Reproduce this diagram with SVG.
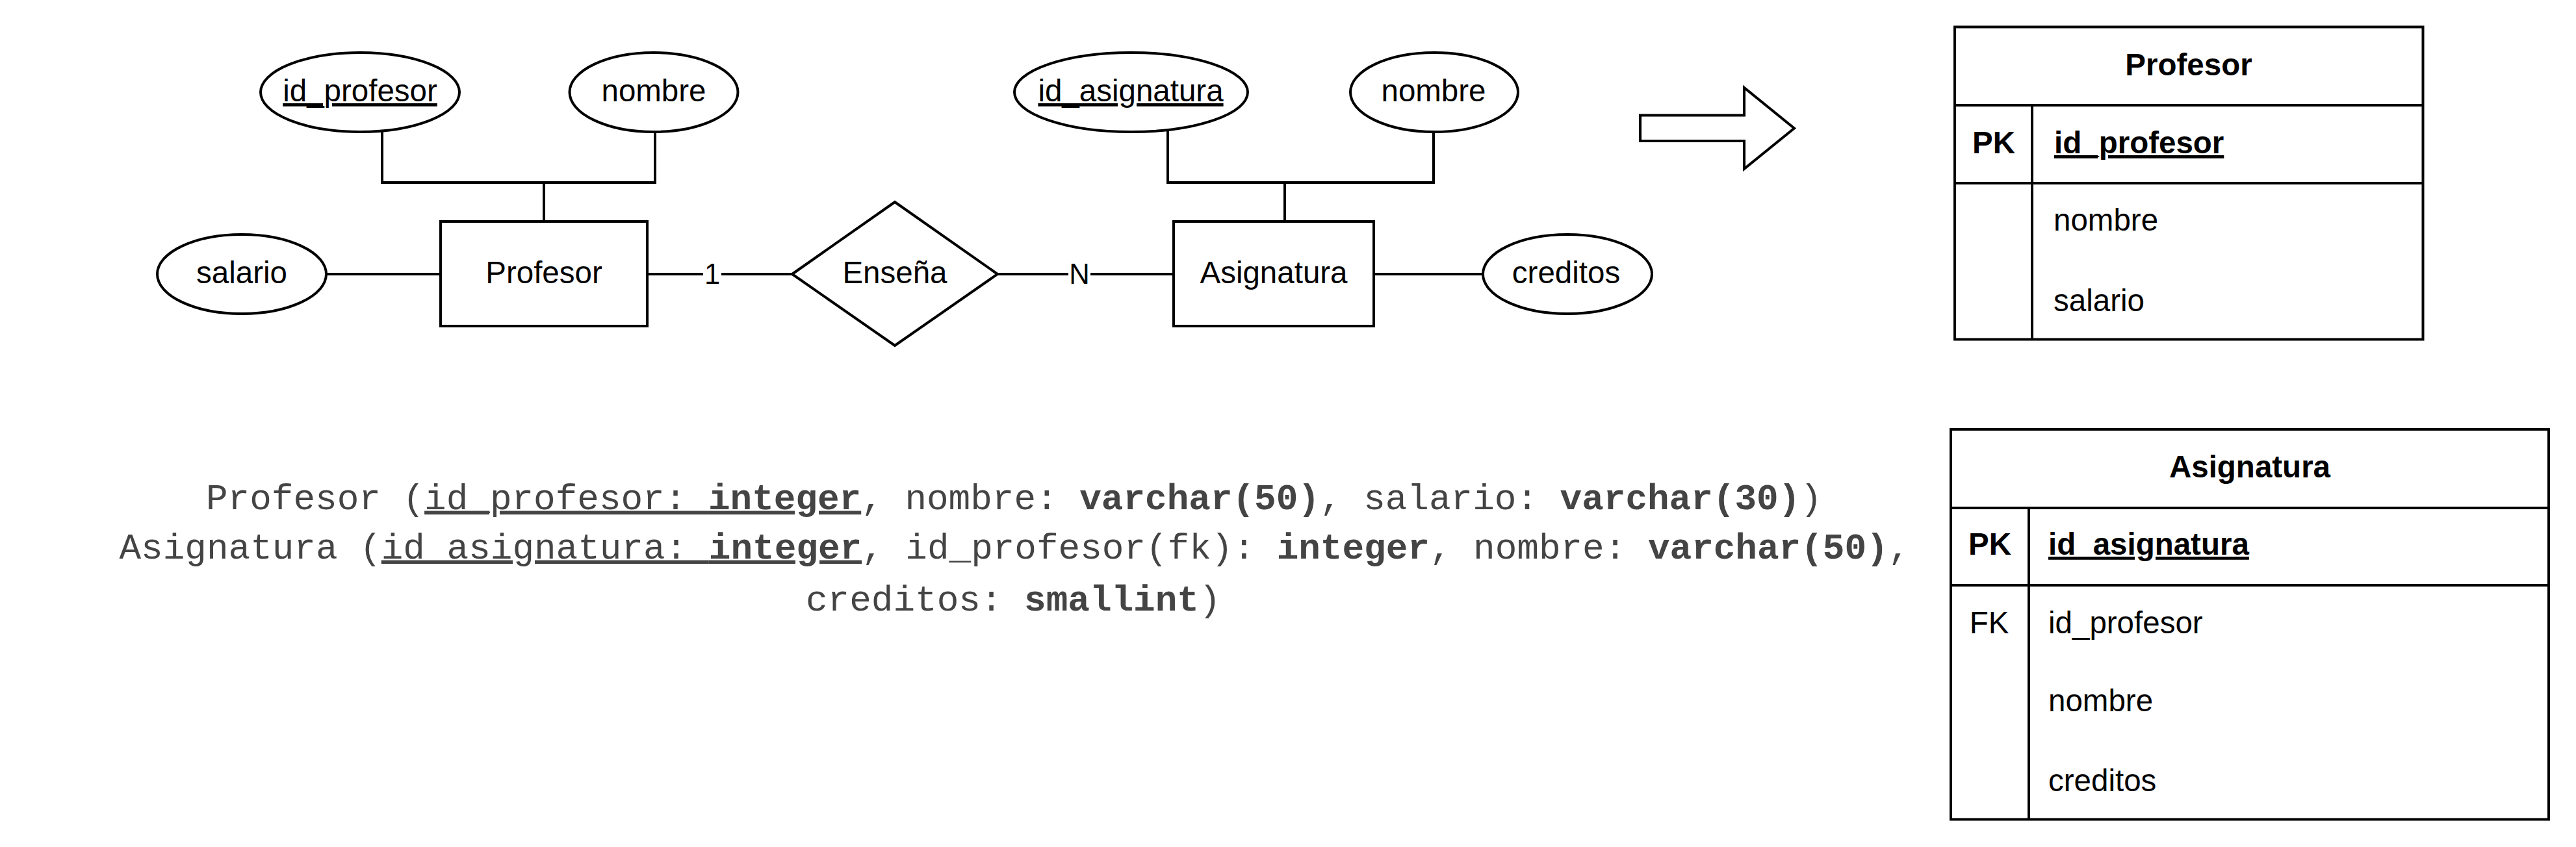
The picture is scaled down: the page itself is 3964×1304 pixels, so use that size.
<svg xmlns="http://www.w3.org/2000/svg" width="3964" height="1304" viewBox="0 0 3964 1304">
<style>
.shape{fill:#fff;stroke:#000;stroke-width:4}
.edge{fill:none;stroke:#000;stroke-width:4}
.t{font-family:"Liberation Sans",Arial,Helvetica,sans-serif;font-size:47.5px;fill:#000}
.c{text-anchor:middle}
.lbl{font-family:"Liberation Sans",Arial,Helvetica,sans-serif;font-size:43.6px;fill:#000;text-anchor:middle}
.b{font-weight:bold}
.u{text-decoration:underline}
.mono{font-family:"Liberation Mono","Courier New",monospace;font-size:56px;fill:#444}
</style>
<rect width="3964" height="1304" fill="#fff"/>
<g id="connectors">
  <polyline class="edge" points="588,202 588,281 1008,281 1008,202"/>
  <line class="edge" x1="837" y1="281" x2="837" y2="341"/>
  <line class="edge" x1="502" y1="422" x2="678" y2="422"/>
  <line class="edge" x1="996" y1="422" x2="1219" y2="422"/>
  <rect x="1082" y="396" width="28" height="48" fill="#fff"/>
  <text class="lbl" x="1096" y="437">1</text>
  <line class="edge" x1="1536" y1="422" x2="1806" y2="422"/>
  <rect x="1644" y="396" width="34" height="48" fill="#fff"/>
  <text class="lbl" x="1661" y="437">N</text>
  <polyline class="edge" points="1797,202 1797,281 2206,281 2206,202"/>
  <line class="edge" x1="1977" y1="281" x2="1977" y2="341"/>
  <line class="edge" x1="2114" y1="422" x2="2282" y2="422"/>
</g>
<g id="attr-id_profesor">
  <ellipse class="shape" cx="554" cy="142" rx="153" ry="61"/>
  <text class="t c u" x="554" y="156">id_profesor</text>
</g>
<g id="attr-nombre-profesor">
  <ellipse class="shape" cx="1006" cy="142" rx="129.5" ry="61"/>
  <text class="t c" x="1006" y="156">nombre</text>
</g>
<g id="attr-salario">
  <ellipse class="shape" cx="372" cy="422" rx="130" ry="61"/>
  <text class="t c" x="372" y="436">salario</text>
</g>
<g id="entity-profesor">
  <rect class="shape" x="678" y="341" width="318" height="161"/>
  <text class="t c" x="837" y="436">Profesor</text>
</g>
<g id="rel-ensena">
  <polygon class="shape" points="1219,422 1377,311 1535,422 1377,532"/>
  <text class="t c" x="1377" y="436">Enseña</text>
</g>
<g id="entity-asignatura">
  <rect class="shape" x="1806" y="341" width="308" height="161"/>
  <text class="t c" x="1960" y="436">Asignatura</text>
</g>
<g id="attr-id_asignatura">
  <ellipse class="shape" cx="1740.5" cy="142" rx="179.5" ry="61"/>
  <text class="t c u" x="1740" y="156">id_asignatura</text>
</g>
<g id="attr-nombre-asignatura">
  <ellipse class="shape" cx="2207" cy="142" rx="129" ry="61"/>
  <text class="t c" x="2206" y="156">nombre</text>
</g>
<g id="attr-creditos">
  <ellipse class="shape" cx="2412" cy="422" rx="130" ry="61"/>
  <text class="t c" x="2410" y="436">creditos</text>
</g>
<g id="block-arrow">
  <polygon class="shape" points="2524,177.5 2684,177.5 2684,135 2761,197.5 2684,260 2684,217 2524,217"/>
</g>
<g id="table-profesor">
  <rect class="shape" x="3008" y="41.5" width="720.5" height="481"/>
  <line class="edge" x1="3008" y1="162" x2="3728.5" y2="162"/>
  <line class="edge" x1="3008" y1="282" x2="3728.5" y2="282"/>
  <line class="edge" x1="3127" y1="162" x2="3127" y2="522.5"/>
  <text class="t c b" x="3368" y="116">Profesor</text>
  <text class="t c b" x="3068" y="236">PK</text>
  <text class="t b u" x="3161" y="236">id_profesor</text>
  <text class="t" x="3160" y="355">nombre</text>
  <text class="t" x="3160" y="479">salario</text>
</g>
<g id="table-asignatura">
  <rect class="shape" x="3002" y="661" width="920" height="600.5"/>
  <line class="edge" x1="3002" y1="782" x2="3922" y2="782"/>
  <line class="edge" x1="3002" y1="901" x2="3922" y2="901"/>
  <line class="edge" x1="3122" y1="782" x2="3122" y2="1261.5"/>
  <text class="t c b" x="3462" y="735">Asignatura</text>
  <text class="t c b" x="3062" y="854">PK</text>
  <text class="t b u" x="3152" y="854">id_asignatura</text>
  <text class="t c" x="3061" y="974.5">FK</text>
  <text class="t" x="3152" y="974.5">id_profesor</text>
  <text class="t" x="3152" y="1095">nombre</text>
  <text class="t" x="3152" y="1218">creditos</text>
</g>
<g id="relational-schema">
  <text class="mono" x="317" y="783.5" xml:space="preserve">Profesor (<tspan class="u">id_profesor: <tspan class="b">integer</tspan></tspan>, nombre: <tspan class="b">varchar(50)</tspan>, salario: <tspan class="b">varchar(30)</tspan>)</text>
  <text class="mono" x="183.5" y="859.5" xml:space="preserve">Asignatura (<tspan class="u">id_asignatura: <tspan class="b">integer</tspan></tspan>, id_profesor(fk): <tspan class="b">integer</tspan>, nombre: <tspan class="b">varchar(50)</tspan>,</text>
  <text class="mono" x="1240" y="939.5" xml:space="preserve">creditos: <tspan class="b">smallint</tspan>)</text>
</g>
</svg>
